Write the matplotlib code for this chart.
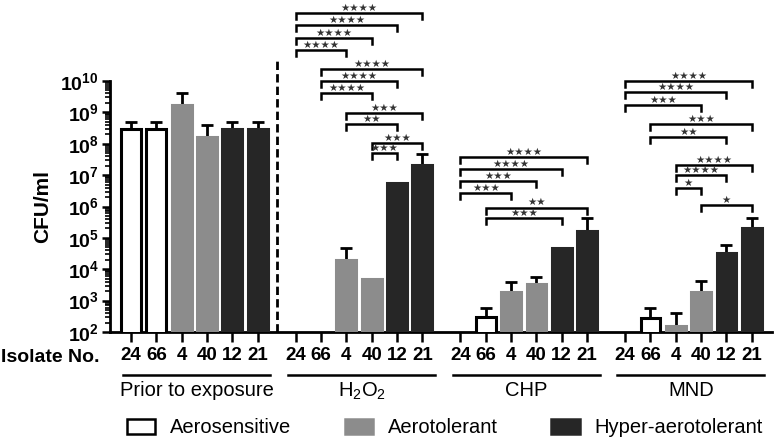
import numpy as np
import matplotlib.pyplot as plt
from matplotlib.patches import Patch
from matplotlib.ticker import LogLocator, NullFormatter, FixedLocator
from matplotlib.transforms import blended_transform_factory

plt.rcParams['font.family'] = 'Liberation Sans'
plt.rcParams['mathtext.fontset'] = 'custom'
plt.rcParams['mathtext.rm'] = 'Liberation Sans'
plt.rcParams['mathtext.bf'] = 'Liberation Sans:bold'

isolates = ['24', '66', '4', '40', '12', '21']
classes = [0, 0, 1, 1, 2, 2]
class_names = ['Aerosensitive', 'Aerotolerant', 'Hyper-aerotolerant']
groups = ['Prior to exposure', r'H$_2$O$_2$', 'CHP', 'MND']

nan = np.nan
# CFU/ml means and upper error bar ends
prior = [3e8, 3e8, 1.7e9, 1.7e8, 3e8, 3e8]
prior_top = [5e8, 5e8, 4e9, 4e8, 5e8, 5e8]
h2o2 = [nan, nan, 2e4, 4.9e3, 5.6e6, 2.1e7]
h2o2_top = [nan, nan, 4.8e4, nan, nan, 4.7e7]
chp = [nan, 3e2, 1.9e3, 3.4e3, 4.8e4, 1.7e5]
chp_top = [nan, 5.9e2, 4e3, 5.8e3, nan, 4.4e5]
mnd = [nan, 2.8e2, 1.6e2, 1.9e3, 3.3e4, 2.1e5]
mnd_top = [nan, 5.9e2, 4e2, 4.3e3, 6e4, 4.4e5]

values = [prior, h2o2, chp, mnd]
tops = [prior_top, h2o2_top, chp_top, mnd_top]

# significance brackets: (from isolate idx, to isolate idx, stars, log10 height)
brackets = [
    [],
    [(0, 5, '****', 12.17), (0, 4, '****', 11.78), (0, 3, '****', 11.37), (0, 2, '****', 10.99),
     (1, 5, '****', 10.38), (1, 4, '****', 10.0), (1, 3, '****', 9.62),
     (2, 5, '***', 8.98), (2, 4, '**', 8.63), (3, 5, '***', 8.03), (3, 4, '***', 7.71)],
    [(0, 5, '****', 7.58), (0, 4, '****', 7.20), (0, 3, '***', 6.82), (0, 2, '***', 6.43),
     (1, 5, '**', 5.96), (1, 4, '***', 5.64)],
    [(0, 5, '****', 10.0), (0, 4, '****', 9.65), (0, 3, '***', 9.24),
     (1, 5, '***', 8.63), (1, 4, '**', 8.22),
     (2, 5, '****', 7.32), (2, 4, '****', 7.01), (2, 3, '*', 6.59), (3, 5, '*', 6.05)],
]

face = ['white', '#8c8c8c', '#262626']
edge = ['black', '#8c8c8c', '#262626']

fig = plt.figure(figsize=(7.78, 4.42), dpi=100)
ax = fig.add_axes([110 / 778, 1 - 332 / 442, 662 / 778, 251 / 442])
ax.set_yscale('log')
ax.set_ylim(1e2, 1e10)
ax.set_xlim(-0.83, 25.3)

group_step = 6.5
all_x = []
for g in range(4):
    xs = g * group_step + np.arange(6)
    all_x.extend(xs)
    vals = np.array(values[g], dtype=float)
    top = np.array(tops[g], dtype=float)
    for i in range(6):
        if np.isnan(vals[i]):
            continue
        c = classes[i]
        ax.bar(xs[i], vals[i], width=0.78, color=face[c], edgecolor=edge[c],
               linewidth=2.2, zorder=3)
        if not np.isnan(top[i]):
            ax.errorbar(xs[i], vals[i], yerr=[[0], [top[i] - vals[i]]], fmt='none',
                        ecolor='black', elinewidth=2, capsize=4, capthick=2, zorder=2)
    for (a, b, stars, h) in brackets[g]:
        xa, xb = xs[a], xs[b]
        ax.plot([xa, xa, xb, xb], [10 ** (h - 0.2), 10 ** h, 10 ** h, 10 ** (h - 0.2)],
                color='black', lw=1.8, clip_on=False, solid_joinstyle='miter')
        ax.text((xa + xb) / 2, 10 ** (h + 0.01), '\u2605' * len(stars), ha='center',
                va='bottom', fontsize=7.5, color='#333333', family='DejaVu Sans')

# separator after the pre-exposure group
ax.plot([5.75, 5.75], [1e2, 10 ** 10.67], ls=(0, (3, 1.5)), color='black', lw=2, clip_on=False)

# group underline + label
tr = blended_transform_factory(ax.transData, ax.transAxes)
for g in range(4):
    x0 = g * group_step
    ax.plot([x0 - 0.3, x0 + 5.5], [-0.171, -0.171], color='black', lw=1.8,
            transform=tr, clip_on=False)
    ax.text(x0 + 2.6, -0.235, groups[g], transform=tr, ha='center', va='center',
            fontsize=14.5)

ax.xaxis.set_major_locator(FixedLocator(all_x))
ax.set_xticklabels(isolates * 4, fontsize=13.5, fontweight='bold')
ax.tick_params(axis='x', length=7, width=1.8, pad=4)
fig.text(0.001, 1 - 357 / 442, 'Isolate No.', fontsize=14, fontweight='bold', va='center')

ax.yaxis.set_major_locator(FixedLocator([10.0 ** k for k in range(2, 11)]))
ax.set_yticklabels([r'$\mathbf{10^{%d}}$' % k for k in range(2, 11)], fontsize=14)
ax.yaxis.set_minor_locator(LogLocator(base=10, subs=np.arange(2, 10), numticks=20))
ax.yaxis.set_minor_formatter(NullFormatter())
ax.tick_params(axis='y', which='major', length=6, width=1.8, pad=2)
ax.tick_params(axis='y', which='minor', length=3.5, width=1.2)
ax.set_ylabel('CFU/ml', fontsize=15, fontweight='bold', labelpad=6)

for s in ['top', 'right']:
    ax.spines[s].set_visible(False)
for s in ['left', 'bottom']:
    ax.spines[s].set_linewidth(2)

handles = [Patch(facecolor=face[k], edgecolor='black' if k == 0 else edge[k], linewidth=1.8,
                 label=class_names[k]) for k in range(3)]
fig.legend(handles=handles, loc='center', bbox_to_anchor=(0.572, 0.032), ncol=3,
           frameon=False, fontsize=14.5, handlelength=1.4, handleheight=0.75,
           handletextpad=0.75, columnspacing=2.65)

fig.savefig('out.png', dpi=100)
